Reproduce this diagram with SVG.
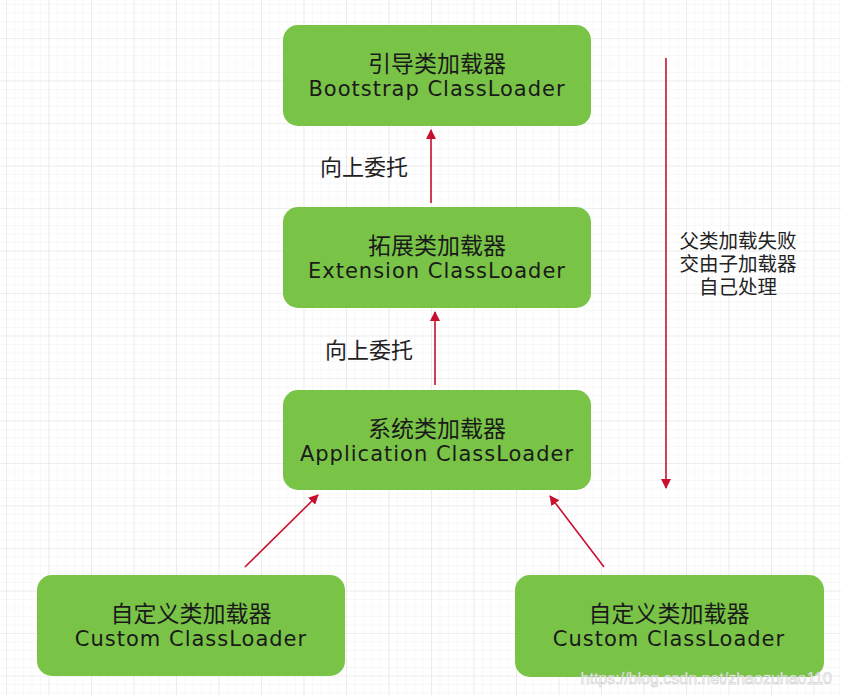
<svg xmlns="http://www.w3.org/2000/svg" width="841" height="695" viewBox="0 0 841 695">
<defs>
<pattern id="minor" x="6" y="-4.5" width="8.5" height="8.5" patternUnits="userSpaceOnUse">
<path d="M0 0H8.5M0 0V8.5" fill="none" stroke="#f2f2f2" stroke-width="1"/>
</pattern>
<pattern id="major" x="6" y="-4.5" width="42.5" height="42.5" patternUnits="userSpaceOnUse">
<path d="M0 0H42.5M0 0V42.5" fill="none" stroke="#e4e4e4" stroke-width="1.2"/>
</pattern>
<marker id="ah" viewBox="0 0 10 10" refX="9" refY="5" markerWidth="10" markerHeight="10" markerUnits="userSpaceOnUse" orient="auto">
<path d="M0 0L10 5L0 10Z" fill="#c8102e"/>
</marker>
<style>
.box{fill:#79c447;}
.cn{font-family:"Noto Sans CJK SC",sans-serif;font-size:23px;fill:#1a1a1a;text-anchor:middle;}
.en{font-family:"DejaVu Sans",sans-serif;font-size:21px;letter-spacing:1px;fill:#1a1a1a;text-anchor:middle;}
.lbl{font-family:"Noto Sans CJK SC",sans-serif;font-size:22px;fill:#222;text-anchor:middle;}
.side{font-family:"Noto Sans CJK SC",sans-serif;font-size:19.5px;fill:#222;text-anchor:middle;}
.arr{stroke:#c8102e;stroke-width:1.6;fill:none;marker-end:url(#ah);}
</style>
</defs>
<rect width="841" height="695" fill="#fff"/>
<rect width="841" height="695" fill="url(#minor)"/>
<rect width="841" height="695" fill="url(#major)"/>
<g id="bootstrap">
<rect class="box" x="283" y="25" width="308" height="101" rx="15"/>
<text class="cn" x="437" y="72">引导类加载器</text>
<text class="en" x="437" y="96">Bootstrap ClassLoader</text>
</g>
<g id="extension">
<rect class="box" x="283" y="207" width="308" height="101" rx="15"/>
<text class="cn" x="437" y="254">拓展类加载器</text>
<text class="en" x="437" y="278">Extension ClassLoader</text>
</g>
<g id="application">
<rect class="box" x="283" y="390" width="308" height="100" rx="15"/>
<text class="cn" x="437" y="437">系统类加载器</text>
<text class="en" x="437" y="461">Application ClassLoader</text>
</g>
<g id="custom1">
<rect class="box" x="37" y="575" width="308" height="101" rx="15"/>
<text class="cn" x="191" y="622">自定义类加载器</text>
<text class="en" x="191" y="646">Custom ClassLoader</text>
</g>
<g id="custom2">
<rect class="box" x="515" y="575" width="309" height="102" rx="15"/>
<text class="cn" x="669" y="622">自定义类加载器</text>
<text class="en" x="669" y="646">Custom ClassLoader</text>
</g>
<g id="connectors">
<line class="arr" x1="431" y1="203" x2="431" y2="130"/>
<line class="arr" x1="435" y1="385" x2="435" y2="312"/>
<line class="arr" x1="245" y1="567" x2="318" y2="495"/>
<line class="arr" x1="604" y1="567" x2="550" y2="496"/>
<line class="arr" x1="666" y1="58" x2="666" y2="488"/>
</g>
<g id="labels">
<text class="lbl" x="364" y="175">向上委托</text>
<text class="lbl" x="369" y="358">向上委托</text>
<text class="side" x="738" y="248">父类加载失败</text>
<text class="side" x="738" y="271">交由子加载器</text>
<text class="side" x="738" y="294">自己处理</text>
</g>
<text x="832" y="684" font-family="Liberation Sans,Arial,sans-serif" font-size="16" text-anchor="end" fill="#ffffff" stroke="#bdbdbd" stroke-width="0.5" opacity="0.9">https://blog.csdn.net/zhaozuhao110</text>
</svg>
